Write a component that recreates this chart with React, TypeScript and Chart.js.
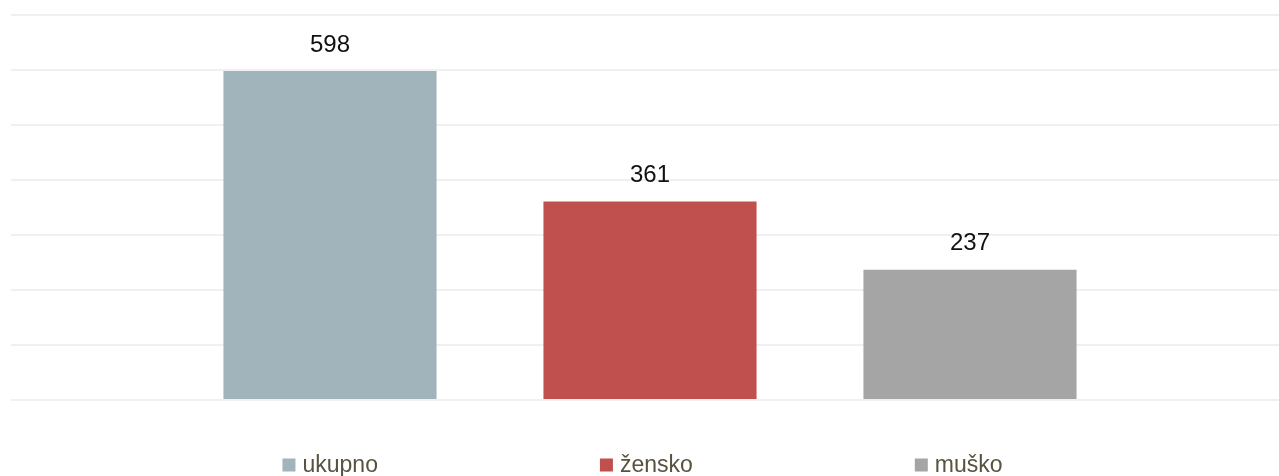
import React, { useEffect, useRef } from "react";
import { Chart, registerables } from "chart.js";

Chart.register(...registerables);

const categories: string[] = [""];
const seriesNames: string[] = ["ukupno", "žensko", "muško"];
const ukupnoValues: number[] = [598];
const zenskoValues: number[] = [361];
const muskoValues: number[] = [237];
const seriesColors: string[] = ["#a2b4bb", "#c0504d", "#a5a5a5"];
const yMax = 700;
const yStep = 100;

const FONT = "'Liberation Sans', Arial, Helvetica, sans-serif";

const valueLabelPlugin = {
  id: "valueLabels",
  afterDatasetsDraw(chart: any) {
    const ctx = chart.ctx;
    ctx.save();
    ctx.font = `24px ${FONT}`;
    ctx.fillStyle = "#111111";
    ctx.textAlign = "center";
    ctx.textBaseline = "bottom";
    chart.data.datasets.forEach((ds: any, i: number) => {
      const meta = chart.getDatasetMeta(i);
      meta.data.forEach((el: any, j: number) => {
        ctx.fillText(String(ds.data[j]), el.x, el.y - 14);
      });
    });
    ctx.restore();
  },
};

const customLegendPlugin = {
  id: "customLegend",
  afterDraw(chart: any) {
    const ctx = chart.ctx;
    const box = 13;
    const boxGap = 7;
    const itemGap = 222;
    ctx.save();
    ctx.font = `23px ${FONT}`;
    const widths = chart.data.datasets.map(
      (ds: any) => box + boxGap + ctx.measureText(ds.label).width
    );
    const total =
      widths.reduce((a: number, b: number) => a + b, 0) +
      itemGap * (widths.length - 1);
    let x = (chart.width - total) / 2 + 3;
    const cy = 465;
    chart.data.datasets.forEach((ds: any, i: number) => {
      ctx.fillStyle = ds.backgroundColor;
      ctx.fillRect(x, cy - box / 2, box, box);
      ctx.fillStyle = "#57533f";
      ctx.textAlign = "left";
      ctx.textBaseline = "middle";
      ctx.fillText(ds.label, x + box + boxGap, cy + 1);
      x += widths[i] + itemGap;
    });
    ctx.restore();
  },
};

export default function App() {
  const canvasRef = useRef<HTMLCanvasElement | null>(null);

  useEffect(() => {
    document.body.style.margin = "0";
    const canvas = canvasRef.current;
    if (!canvas) return;
    const valueArrays = [ukupnoValues, zenskoValues, muskoValues];
    const chart = new Chart(canvas, {
      type: "bar",
      data: {
        labels: categories,
        datasets: seriesNames.map((name, i) => ({
          label: name,
          data: valueArrays[i],
          backgroundColor: seriesColors[i],
          borderWidth: 0,
          categoryPercentage: 960 / 1258,
          barPercentage: 0.666,
        })),
      },
      options: {
        animation: false,
        responsive: false,
        maintainAspectRatio: false,
        layout: { padding: { top: 15, bottom: 76, left: 11, right: 0 } },
        plugins: {
          legend: { display: false },
          tooltip: { enabled: false },
        },
        scales: {
          x: { display: false, grid: { display: false } },
          y: {
            display: true,
            min: 0,
            max: yMax,
            ticks: { display: false, stepSize: yStep },
            border: { display: false },
            grid: {
              color: "#f0f0f0",
              lineWidth: 2,
              drawTicks: true,
              tickLength: 10,
              tickColor: "#f0f0f0",
              tickWidth: 2,
            },
          },
        },
      },
      plugins: [valueLabelPlugin, customLegendPlugin],
    });
    return () => chart.destroy();
  }, []);

  return (
    <div style={{ width: 1279, height: 476 }}>
      <canvas ref={canvasRef} width={1279} height={476} style={{ display: "block" }} />
    </div>
  );
}
